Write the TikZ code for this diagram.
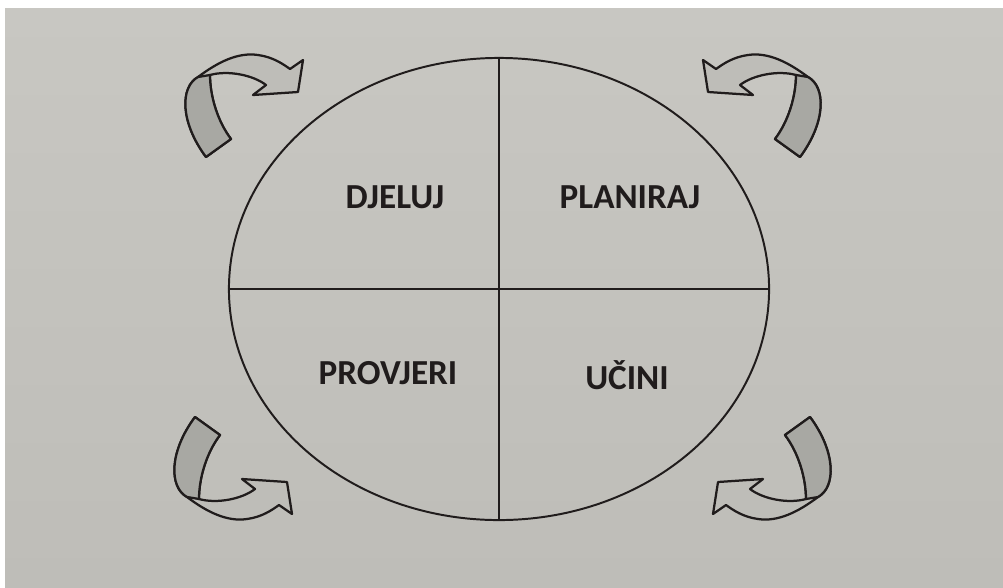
\documentclass[tikz,border=0pt]{standalone}
\usepackage{fontspec}
\setmainfont{Carlito}
\usetikzlibrary{shapes.geometric}
\definecolor{paper}{RGB}{190,189,184}
\definecolor{paperlight}{RGB}{200,199,194}
\definecolor{ribbon}{RGB}{168,168,163}
\definecolor{ink}{RGB}{32,28,28}

\tikzset{
    twistarrow/.pic={
        % whole ribbon, tip at the origin
        \path[draw=ink, line width=1.6pt, line join=round, fill=paper]
            (-92,65) .. controls (-118,30) and (-118,-5) .. (-100,-15)
            .. controls (-80,-30) and (-60,-40) .. (-40,-37)
            .. controls (-25,-35) and (-15,-28) .. (-8,-23)
            -- (5,-32) -- (0,0) -- (-45,3) -- (-32,-7)
            .. controls (-45,-17) and (-70,-22) .. (-88,-17)
            .. controls (-88,5) and (-80,30) .. (-67,47) -- cycle;
        % shaded back of the ribbon
        \path[draw=ink, line width=1.6pt, line join=round, fill=ribbon]
            (-92,65) .. controls (-118,30) and (-118,-5) .. (-100,-15)
            -- (-88,-17) .. controls (-88,5) and (-80,30) .. (-67,47) -- cycle;
    }
}

\begin{document}
\begin{tikzpicture}[
    x=0.025cm, y=-0.025cm,
    cyclebox/.style={ellipse, draw=ink, line width=1.4pt, inner sep=0pt,
                     minimum width=13.5cm, minimum height=11.55cm},
    divider/.style={draw=ink, line width=1.4pt},
    quadlabel/.style={font=\fontsize{25}{30}\selectfont\bfseries, text=ink}
]
\useasboundingbox (0,0) rectangle (1003,587);
%% Page
\fill[white] (0,0) rectangle (1003,587);
\shade[top color=paperlight, bottom color=paper] (5,8) rectangle (1003,587);
%% Cycle
\node[cyclebox] (cycle) at (499,289) {};
\draw[divider] (cycle.north) -- (cycle.south);
\draw[divider] (cycle.west) -- (cycle.east);
%% Quadrant labels
\node[quadlabel] (act)   at (395,197) {DJELUJ};
\node[quadlabel] (plan)  at (630,197) {PLANIRAJ};
\node[quadlabel] (check) at (388,373) {PROVJERI};
\node[quadlabel] (doit)  at (627,375) {UČINI};
%% Corner arrows
\pic at (298,92) {twistarrow};
\pic[xscale=-1] at (708,92) {twistarrow};
\pic[yscale=-1] at (287,482) {twistarrow};
\pic[xscale=-1, yscale=-1] at (718,482) {twistarrow};
\end{tikzpicture}
\end{document}
